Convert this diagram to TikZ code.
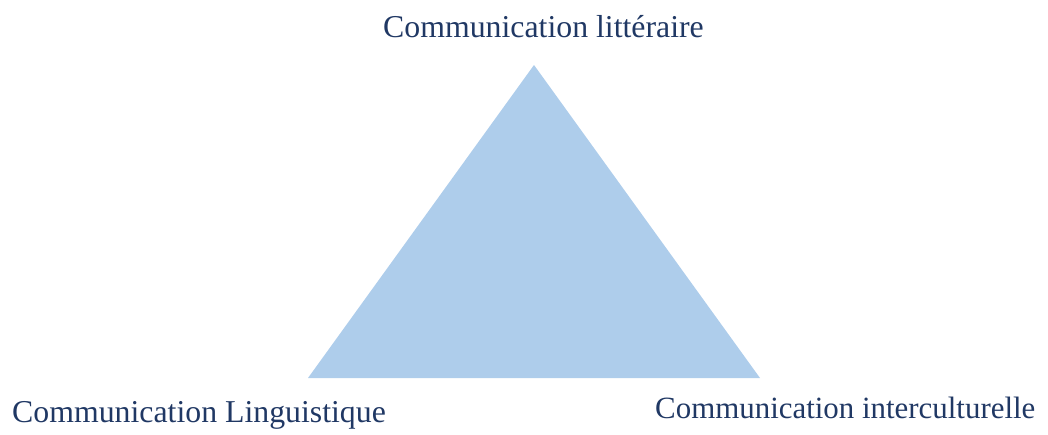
\documentclass[tikz,border=0pt]{standalone}
\usepackage{fontspec}
\setmainfont{Liberation Serif}
\definecolor{txtblue}{HTML}{203864}
\definecolor{trifill}{HTML}{AECDEB}
\begin{document}
\begin{tikzpicture}[x=1pt,y=-1pt,
  lbl/.style={font=\fontsize{31.8}{34}\selectfont, text=txtblue, inner sep=0pt, anchor=base west}]
\useasboundingbox (0,0) rectangle (1048,434);
\coordinate (top) at (534,65);
\coordinate (bl) at (308,378);
\coordinate (br) at (760,378);
\fill[trifill] (top) -- (bl) -- (br) -- cycle;
\node[lbl] (t) at (383,37) {Communication littéraire};
\node[lbl] (l) at (12,422) {Communication Linguistique};
\node[lbl, font=\fontsize{30.9}{33}\selectfont] (r) at (655,418) {Communication interculturelle};
\end{tikzpicture}
\end{document}
